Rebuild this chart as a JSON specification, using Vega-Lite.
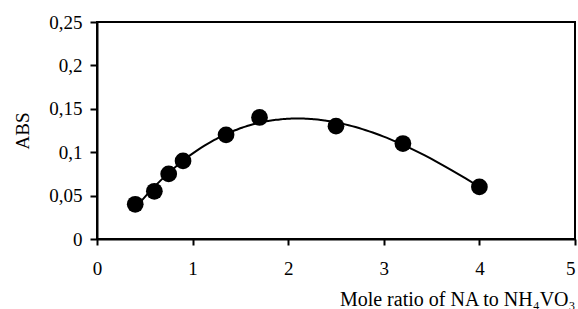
{
  "$schema": "https://vega.github.io/schema/vega-lite/v6.json",
  "width": 478,
  "height": 217,
  "autosize": {"type": "none"},
  "padding": {"left": 97, "top": 22, "right": 3, "bottom": 70},
  "background": "white",
  "config": {
    "font": "Liberation Serif",
    "view": {"stroke": "black", "strokeWidth": 2},
    "axis": {
      "grid": false,
      "domainColor": "black",
      "domainWidth": 2,
      "tickColor": "black",
      "tickWidth": 2,
      "labelColor": "black",
      "titleColor": "black",
      "labelFont": "Liberation Serif",
      "titleFont": "Liberation Serif",
      "labelFontSize": 19,
      "titleFontSize": 19,
      "titleFontWeight": "normal"
    }
  },
  "data": {
    "values": [
      {"ratio": 0.4, "abs": 0.040},
      {"ratio": 0.6, "abs": 0.055},
      {"ratio": 0.75, "abs": 0.075},
      {"ratio": 0.9, "abs": 0.090},
      {"ratio": 1.35, "abs": 0.120},
      {"ratio": 1.7, "abs": 0.140},
      {"ratio": 2.5, "abs": 0.130},
      {"ratio": 3.2, "abs": 0.110},
      {"ratio": 4.0, "abs": 0.060}
    ]
  },
  "encoding": {
    "x": {
      "field": "ratio",
      "type": "quantitative",
      "scale": {"domain": [0, 5], "nice": false, "zero": false},
      "axis": {
        "title": "Mole ratio of NA to NH₄VO₃",
        "titleFontSize": 20,
        "titleAnchor": "end",
        "titlePadding": 11,
        "values": [0, 1, 2, 3, 4, 5],
        "tickSize": 6,
        "labelPadding": 14,
        "labelFlush": false,
        "labelAlign": {"condition": {"test": "datum.value == 5", "value": "right"}, "value": "center"}
      }
    },
    "y": {
      "field": "abs",
      "type": "quantitative",
      "scale": {"domain": [0, 0.25], "nice": false},
      "axis": {
        "title": "ABS",
        "values": [0, 0.05, 0.1, 0.15, 0.2, 0.25],
        "labelExpr": "replace(toString(datum.value), '.', ',')",
        "tickSize": 7,
        "labelPadding": 8,
        "titlePadding": 16
      }
    }
  },
  "layer": [
    {
      "transform": [
        {"regression": "abs", "on": "ratio", "method": "poly", "order": 3, "extent": [0.4, 4]}
      ],
      "mark": {"type": "line", "color": "black", "strokeWidth": 2, "interpolate": "monotone"}
    },
    {
      "mark": {"type": "point", "filled": true, "shape": "circle", "size": 280, "color": "black", "opacity": 1}
    }
  ]
}
